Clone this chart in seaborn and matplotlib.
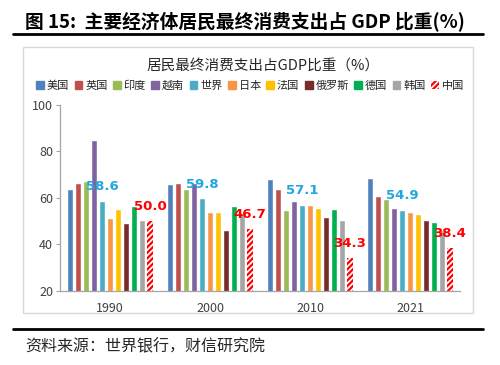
import matplotlib
matplotlib.use("Agg")
import matplotlib.pyplot as plt
import seaborn as sns
import pandas as pd
from matplotlib.patches import Rectangle, Patch
from matplotlib.lines import Line2D

years = ["1990", "2000", "2010", "2021"]
countries = ["美国", "英国", "印度", "越南", "世界", "日本", "法国", "俄罗斯", "德国", "韩国", "中国"]
values = {
    "美国":   [64.0, 66.2, 68.3, 68.5],
    "英国":   [66.6, 66.3, 64.0, 60.7],
    "印度":   [67.3, 63.9, 54.8, 59.7],
    "越南":   [85.1, 66.6, 58.6, 55.6],
    "世界":   [58.6, 59.8, 57.1, 54.9],
    "日本":   [51.4, 53.8, 57.0, 54.0],
    "法国":   [55.4, 53.8, 55.6, 53.0],
    "俄罗斯": [49.1, 46.2, 51.7, 50.3],
    "德国":   [56.4, 56.4, 55.3, 49.4],
    "韩国":   [50.3, 53.3, 50.5, 46.0],
    "中国":   [50.0, 46.7, 34.3, 38.4],
}
colors = ["#4F81BD", "#C0504D", "#9BBB59", "#8064A2", "#4BACC6", "#F79646",
          "#FFC000", "#772C2A", "#00B050", "#A5A5A5", "#FF0000"]

rows = []
for c in countries:
    for y, v in zip(years, values[c]):
        rows.append({"year": y, "country": c, "value": v})
df = pd.DataFrame(rows)

sns.set_style("white")
plt.rcParams["font.family"] = ["Noto Sans CJK SC", "DejaVu Sans"]
plt.rcParams["hatch.linewidth"] = 1.6

fig = plt.figure(figsize=(5, 3.65), dpi=100)
ax = fig.add_axes([0.12, 0.2036, 0.80, 0.5085])

sns.barplot(data=df, x="year", y="value", hue="country", hue_order=countries,
            order=years, palette=colors, width=0.88, gap=0.15, ax=ax,
            legend=False, saturation=1)

# China hatched bars
china = ax.containers[10]
for p in china:
    p.set_facecolor("white")
    p.set_edgecolor("#FF0000")
    p.set_hatch("//////")
    p.set_linewidth(0)

# labels
lab_world = "#1FA7E0"
for cont, col in [(ax.containers[4], lab_world), (ax.containers[10], "#FF0000")]:
    for p in cont:
        h = p.get_height()
        ax.annotate(f"{h:.1f}", (p.get_x() + p.get_width() / 2, h),
                    xytext=(0, 5.5), textcoords="offset points",
                    ha="center", va="bottom", fontsize=9.5, fontweight="bold",
                    color=col, family=["DejaVu Sans"])

ax.set_ylim(20, 100)
ax.set_yticks([20, 40, 60, 80, 100])
ax.set_xlim(-0.5, 3.5)
ax.set_xlabel("")
ax.set_ylabel("")
for s in ["top", "right"]:
    ax.spines[s].set_visible(False)
for s in ["left", "bottom"]:
    ax.spines[s].set_color("#A6A6A6")
    ax.spines[s].set_linewidth(0.9)
ax.tick_params(axis="y", labelsize=9, colors="#404040", left=True, length=3, color="#A6A6A6", pad=2)
ax.tick_params(axis="x", labelsize=9, colors="#404040", bottom=False, pad=5)

# legend
handles = []
for c, col in zip(countries, colors):
    if c == "中国":
        handles.append(Patch(facecolor="white", edgecolor="#FF0000", hatch="//////", linewidth=0))
    else:
        handles.append(Patch(facecolor=col, edgecolor=col))
fig.legend(handles, countries, loc="center", bbox_to_anchor=(0.5, 0.765), ncol=11,
           frameon=False, fontsize=8, handlelength=0.7, handleheight=0.7,
           handletextpad=0.25, columnspacing=0.5, borderpad=0)

# chart box
fig.patches.append(Rectangle((23 / 500, 1 - 313 / 365), 450 / 500, 266 / 365,
                             transform=fig.transFigure, fill=False,
                             edgecolor="#D9D9D9", linewidth=1))
fig.text(0.527, 1 - 67 / 365, "居民最终消费支出占GDP比重（%）", ha="center", va="center",
         fontsize=10.5, fontweight="medium", color="#262626")

# header / footer
fig.text(25 / 500, 1 - 21 / 365, "图 15:  主要经济体居民最终消费支出占 GDP 比重(%)",
         ha="left", va="center", fontsize=13.5, fontweight="bold", color="black")
fig.add_artist(Line2D([13 / 500, 483 / 500], [1 - 34 / 365] * 2, transform=fig.transFigure,
                      color="black", linewidth=2))
fig.add_artist(Line2D([13 / 500, 483 / 500], [1 - 329 / 365] * 2, transform=fig.transFigure,
                      color="black", linewidth=2))
fig.text(25 / 500, 1 - 347 / 365, "资料来源：世界银行，财信研究院", ha="left", va="center",
         fontsize=11.5, style="italic", color="#262626")

fig.savefig("out.png", dpi=100)
